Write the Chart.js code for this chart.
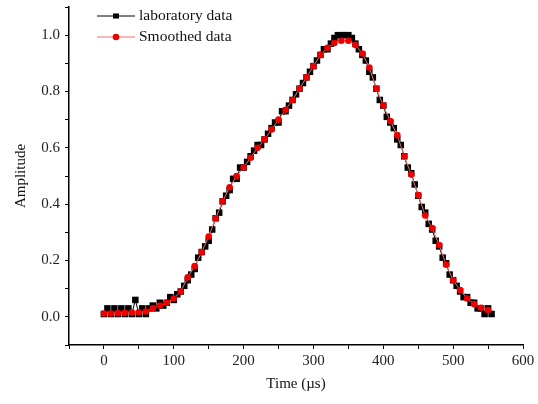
<!DOCTYPE html>
<html>
<head>
<meta charset="utf-8">
<script src="https://cdn.jsdelivr.net/npm/chart.js@4"></script>
<style>
  body { margin: 0; background: #fff; }
  canvas { display: block; }
</style>
</head>
<body>
<canvas id="pulseChart" width="538" height="404"></canvas>
<script>
// Laboratory data (black squares), time in µs
const labTime = [0, 5, 10, 15, 20, 25, 30, 35, 40, 45, 50, 55, 60, 65, 70, 75, 80, 85, 90, 95,
    100, 105, 110, 115, 120, 125, 130, 135, 140, 145, 150, 155, 160, 165, 170, 175, 180, 185, 190, 195,
    200, 205, 210, 215, 220, 225, 230, 235, 240, 245, 250, 255, 260, 265, 270, 275, 280, 285, 290, 295,
    300, 305, 310, 315, 320, 325, 330, 335, 340, 345, 350, 355, 360, 365, 370, 375, 380, 385, 390, 395,
    400, 405, 410, 415, 420, 425, 430, 435, 440, 445, 450, 455, 460, 465, 470, 475, 480, 485, 490, 495,
    500, 505, 510, 515, 520, 525, 530, 535, 540, 545, 550, 555];
const labAmp = [0.01, 0.03, 0.01, 0.03, 0.01, 0.03, 0.01, 0.03, 0.01, 0.06, 0.01, 0.03, 0.01, 0.03, 0.04, 0.03, 0.05, 0.04, 0.05, 0.07,
    0.06, 0.08, 0.09, 0.11, 0.13, 0.15, 0.17, 0.21, 0.23, 0.25, 0.27, 0.31, 0.35, 0.37, 0.41, 0.43, 0.45, 0.49, 0.49, 0.53,
    0.53, 0.55, 0.57, 0.59, 0.61, 0.61, 0.63, 0.65, 0.67, 0.69, 0.69, 0.73, 0.73, 0.75, 0.77, 0.79, 0.81, 0.83, 0.85, 0.87,
    0.89, 0.91, 0.93, 0.95, 0.95, 0.97, 0.99, 1.0, 1.0, 1.0, 1.0, 0.99, 0.97, 0.95, 0.93, 0.91, 0.87, 0.85, 0.81, 0.77,
    0.75, 0.71, 0.69, 0.67, 0.63, 0.61, 0.57, 0.53, 0.51, 0.47, 0.43, 0.39, 0.37, 0.33, 0.31, 0.27, 0.25, 0.21, 0.19, 0.15,
    0.13, 0.11, 0.09, 0.07, 0.07, 0.05, 0.05, 0.03, 0.03, 0.01, 0.03, 0.01];

// Smoothed data (red circles)
const smoothTime = [0, 10, 20, 30, 40, 50, 60, 70, 80, 90, 100, 110, 120, 130, 140, 150, 160, 170, 180, 190,
    200, 210, 220, 230, 240, 250, 260, 270, 280, 290, 300, 310, 320, 330, 340, 350, 360, 370, 380, 390,
    400, 410, 420, 430, 440, 450, 460, 470, 480, 490, 500, 510, 520, 530, 540, 550];
const smoothAmp = [0.012, 0.012, 0.013, 0.014, 0.015, 0.016, 0.019, 0.03, 0.04, 0.05, 0.065, 0.09, 0.14, 0.18, 0.23, 0.285, 0.35, 0.41, 0.46, 0.5,
    0.53, 0.565, 0.6, 0.63, 0.665, 0.7, 0.735, 0.77, 0.81, 0.85, 0.89, 0.93, 0.955, 0.972, 0.98, 0.98, 0.965, 0.935, 0.885, 0.81,
    0.75, 0.695, 0.645, 0.57, 0.505, 0.432, 0.36, 0.315, 0.255, 0.185, 0.13, 0.095, 0.065, 0.045, 0.032, 0.024];

const seriesNames = ['laboratory data', 'Smoothed data'];
const xTitle = 'Time (µs)';
const yTitle = 'Amplitude';

const serif = '"Liberation Serif", "DejaVu Serif", serif';

// Origin-style legend: short line with the marker in the middle
const lineLegend = {
    id: 'lineLegend',
    afterDraw(chart) {
        const c = chart.ctx;
        c.save();
        chart.data.datasets.forEach((ds, i) => {
            const y = 16 + i * 21;
            c.strokeStyle = ds.borderColor;
            c.lineWidth = 1;
            c.beginPath();
            c.moveTo(97, y);
            c.lineTo(135, y);
            c.stroke();
            c.fillStyle = ds.pointBackgroundColor;
            if (ds.pointStyle === 'rect') {
                c.fillRect(113, y - 2.5, 6, 5);
            } else {
                c.beginPath();
                c.arc(116, y, 3.3, 0, Math.PI * 2);
                c.fill();
            }
            c.fillStyle = '#111';
            c.font = '15.5px ' + serif;
            c.textBaseline = 'middle';
            c.fillText(seriesNames[i], 139, y);
        });
        c.restore();
    }
};

const ctx = document.getElementById('pulseChart').getContext('2d');
new Chart(ctx, {
    type: 'line',
    data: {
        datasets: [
            {
                label: seriesNames[0],
                data: labTime.map((t, i) => ({ x: t, y: labAmp[i] })),
                borderColor: '#000',
                borderWidth: 1,
                pointStyle: 'rect',
                pointRadius: 4.6,
                pointBackgroundColor: '#000',
                pointBorderWidth: 0,
                order: 2
            },
            {
                label: seriesNames[1],
                data: smoothTime.map((t, i) => ({ x: t, y: smoothAmp[i] })),
                borderColor: '#f07070',
                borderWidth: 1,
                pointStyle: 'circle',
                pointRadius: 3.3,
                pointBackgroundColor: '#ee0000',
                pointBorderWidth: 0,
                order: 1
            }
        ]
    },
    options: {
        responsive: false,
        animation: false,
        layout: { padding: { left: 0, top: 7, right: 15, bottom: 0 } },
        plugins: {
            legend: { display: false },
            tooltip: { enabled: false }
        },
        scales: {
            x: {
                type: 'linear',
                min: -50,
                max: 600,
                afterFit: s => { s.height = 59; s.paddingLeft = 0; s.paddingRight = 0; },
                border: { display: true, color: '#000', width: 1.5 },
                grid: { drawOnChartArea: false, drawTicks: true, tickLength: 4, color: '#000', tickColor: '#000' },
                ticks: {
                    stepSize: 50,
                    autoSkip: false,
                    maxTicksLimit: 20,
                    maxRotation: 0,
                    padding: 3,
                    color: '#222',
                    font: { family: serif, size: 15 },
                    callback: v => (v >= 0 && v % 100 === 0) ? String(v) : ''
                },
                title: {
                    display: true,
                    text: xTitle,
                    color: '#111',
                    font: { family: serif, size: 15 },
                    padding: { top: 0, bottom: 11 }
                }
            },
            y: {
                min: -0.1,
                max: 1.1,
                afterFit: s => { s.width = 69; s.paddingTop = 0; s.paddingBottom = 0; },
                border: { display: true, color: '#000', width: 1.5 },
                grid: { drawOnChartArea: false, drawTicks: true, tickLength: 4, color: '#000', tickColor: '#000' },
                ticks: {
                    stepSize: 0.1,
                    autoSkip: false,
                    maxTicksLimit: 20,
                    padding: 5,
                    color: '#222',
                    font: { family: serif, size: 15 },
                    callback: v => {
                        const k = Math.round(v * 10);
                        return (k >= 0 && k <= 10 && k % 2 === 0) ? (k / 10).toFixed(1) : '';
                    }
                },
                title: {
                    display: true,
                    text: yTitle,
                    color: '#111',
                    font: { family: serif, size: 15 },
                    padding: { top: 12, bottom: 0 }
                }
            }
        }
    },
    plugins: [lineLegend]
});
</script>
</body>
</html>
